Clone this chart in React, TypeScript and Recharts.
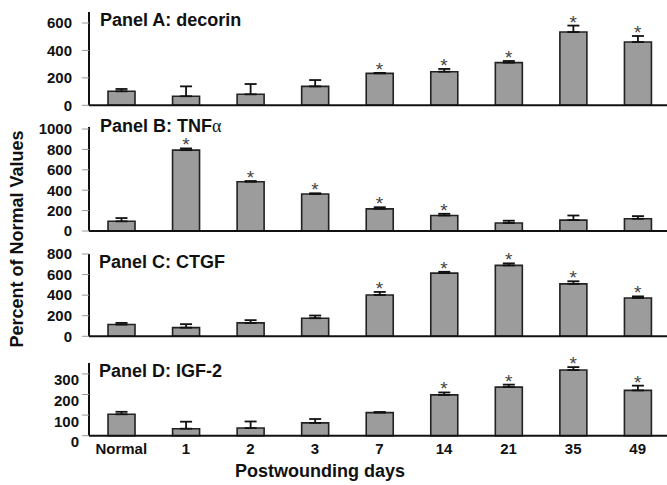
import React from 'react';
import { ComposedChart, Bar, Line, XAxis, YAxis, ErrorBar } from 'recharts';

const days = ['Normal', '1', '2', '3', '7', '14', '21', '35', '49'];

const decorin = [102, 66, 80, 138, 233, 245, 311, 534, 461];
const decorinErr = [17, 72, 75, 46, 3, 20, 12, 47, 44];
const decorinSig = [0, 0, 0, 0, 1, 1, 1, 1, 1];

const tnf = [95, 793, 483, 363, 217, 152, 78, 107, 120];
const tnfErr = [32, 17, 7, 7, 16, 17, 23, 45, 26];
const tnfSig = [0, 1, 1, 1, 1, 1, 0, 0, 0];

const ctgf = [114, 84, 130, 176, 402, 614, 689, 510, 373];
const ctgfErr = [16, 34, 27, 26, 29, 13, 20, 25, 15];
const ctgfSig = [0, 0, 0, 0, 1, 1, 1, 1, 1];

const igf = [104, 34, 37, 62, 112, 198, 236, 319, 220];
const igfErr = [12, 34, 32, 19, 3, 12, 12, 14, 23];
const igfSig = [0, 0, 0, 0, 0, 1, 1, 1, 1];

const ticksA = [0, 200, 400, 600];
const ticksB = [0, 200, 400, 600, 800, 1000];
const ticksC = [0, 200, 400, 600, 800];
const ticksD = [0, 100, 200, 300];

const FONT = '"Liberation Sans", Arial, Helvetica, sans-serif';

function build(vals: number[], errs: number[], sig: number[]) {
  return days.map((d, i) => ({
    day: d,
    v: vals[i],
    e: [0, errs[i]],
    star: sig[i] ? vals[i] + errs[i] : null,
  }));
}

const StarDot = (props: any) => {
  const { cx, cy, value, index } = props;
  if (value == null || cx == null || cy == null) return <g key={`s${index}`} />;
  return (
    <text key={`s${index}`} x={cx} y={cy + 3} textAnchor="middle" fontSize={19} fontFamily={FONT} fill="#444">
      *
    </text>
  );
};

const YTickD = (props: any) => {
  const { x, y, payload } = props;
  return (
    <text x={x} y={y + 6} textAnchor="end" dominantBaseline="central" fontSize={15} fontWeight="bold" fontFamily={FONT} fill="#111">
      {payload.value}
    </text>
  );
};

type PanelProps = {
  data: any[];
  plotTop: number;
  plotH: number;
  domainMax: number;
  ticks: number[];
  last?: boolean;
};

const MT = 30;

function Panel({ data, plotTop, plotH, domainMax, ticks, last }: PanelProps) {
  const xh = last ? 30 : 2;
  const mb = last ? 0 : 10;
  const h = MT + plotH + xh + mb;
  return (
    <div style={{ position: 'absolute', left: 0, top: plotTop - MT }}>
      <ComposedChart width={670} height={h} data={data} margin={{ top: MT, right: 0, bottom: mb, left: 0 }}>
        <XAxis
          dataKey="day"
          height={xh}
          axisLine={{ stroke: '#111', strokeWidth: 2 }}
          tickLine={false}
          tickSize={0}
          tickMargin={8}
          tick={last ? { fontSize: 15, fontWeight: 'bold', fill: '#111', fontFamily: FONT } : false}
          interval={0}
        />
        <YAxis
          width={89}
          domain={[0, domainMax]}
          ticks={ticks}
          interval={0}
          axisLine={{ stroke: '#111', strokeWidth: 2 }}
          tickLine={{ stroke: '#999', strokeWidth: 1 }}
          tickSize={7}
          tickMargin={last ? 3 : 10}
          tick={last ? <YTickD /> : { fontSize: 15, fontWeight: 'bold', fill: '#111', fontFamily: FONT }}
        />
        <Bar dataKey="v" barSize={27} fill="#9c9c9c" stroke="#222" strokeWidth={1.6} isAnimationActive={false}>
          <ErrorBar dataKey="e" width={6} stroke="#111" strokeWidth={1.8} direction="y" />
        </Bar>
        <Line
          dataKey="star"
          stroke="none"
          dot={<StarDot />}
          activeDot={false}
          connectNulls={false}
          isAnimationActive={false}
          legendType="none"
        />
      </ComposedChart>
    </div>
  );
}

export default function App() {
  const dA = build(decorin, decorinErr, decorinSig);
  const dB = build(tnf, tnfErr, tnfSig);
  const dC = build(ctgf, ctgfErr, ctgfSig);
  const dD = build(igf, igfErr, igfSig);
  const titleStyle = { fontSize: 18, fontWeight: 'bold' as const, fontFamily: FONT, fill: '#111' };
  return (
    <div style={{ position: 'absolute', left: 0, top: 0, width: 667, height: 485, overflow: 'hidden', background: '#fff' }}>
      <Panel data={dA} plotTop={11.7} plotH={93.3} domainMax={680} ticks={ticksA} />
      <Panel data={dB} plotTop={126.7} plotH={104} domainMax={1020} ticks={ticksB} />
      <Panel data={dC} plotTop={254} plotH={82.3} domainMax={800} ticks={ticksC} />
      <Panel data={dD} plotTop={363.3} plotH={72.7} domainMax={353} ticks={ticksD} last />
      <svg width={667} height={485} style={{ position: 'absolute', left: 0, top: 0, pointerEvents: 'none' }}>
        <text x={100} y={26} {...titleStyle}>Panel A: decorin</text>
        <text x={100} y={132} {...titleStyle}>
          Panel B: TNF<tspan fontFamily="'Liberation Serif', 'DejaVu Serif', serif" fontWeight="normal">α</tspan>
        </text>
        <text x={99} y={268} {...titleStyle}>Panel C: CTGF</text>
        <text x={99} y={377} {...titleStyle}>Panel D: IGF-2</text>
        <text x={320} y={477} textAnchor="middle" {...titleStyle}>Postwounding days</text>
        <text
          x={17}
          y={239}
          textAnchor="middle"
          dominantBaseline="central"
          transform="rotate(-90 17 239)"
          {...titleStyle}
        >
          Percent of Normal Values
        </text>
      </svg>
    </div>
  );
}
